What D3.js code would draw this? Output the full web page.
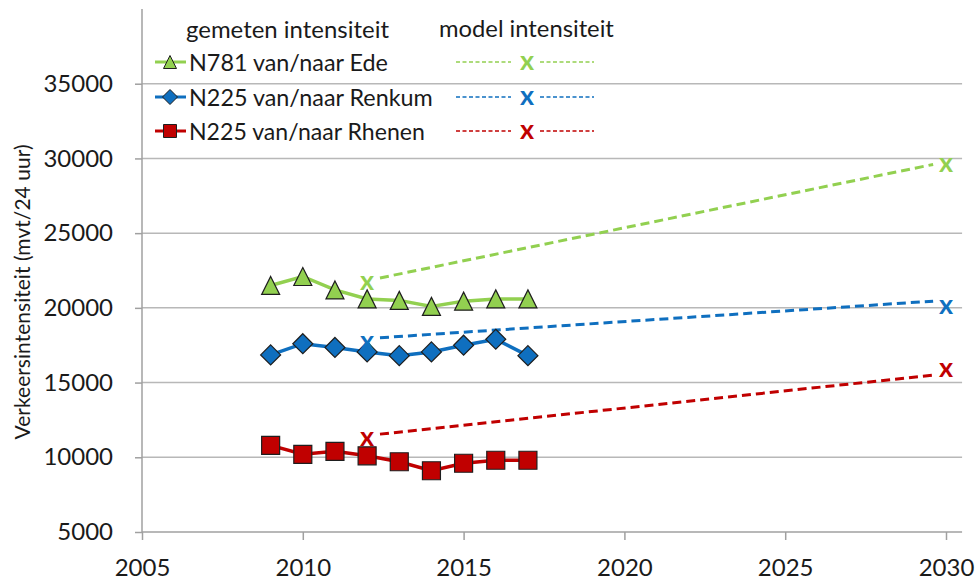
<!DOCTYPE html>
<html>
<head>
<meta charset="utf-8">
<script src="https://cdn.jsdelivr.net/npm/d3@7"></script>
<style>
  html, body { margin: 0; padding: 0; background: #fff; }
  svg { display: block; }
  text { font-family: Lato, "Open Sans", sans-serif; fill: #1a1a1a; }
</style>
</head>
<body>
<svg id="chart" width="977" height="581"></svg>
<script>
// ---- data ----
const years = [2009, 2010, 2011, 2012, 2013, 2014, 2015, 2016, 2017];
const edeValues    = [21500, 22100, 21200, 20600, 20500, 20100, 20450, 20600, 20600];
const renkumValues = [16850, 17600, 17350, 17050, 16800, 17050, 17500, 17900, 16800];
const rhenenValues = [10800, 10200, 10400, 10100, 9700, 9100, 9600, 9800, 9800];

const modelYears = [2012, 2030];
const modelEde    = [21700, 29600];
const modelRenkum = [17700, 20100];
const modelRhenen = [11300, 15900];

const trendYears = [2012.4, 2029.6];
const trendEde    = [22000, 29600];
const trendRenkum = [18000, 20450];
const trendRhenen = [11550, 15500];

const seriesNames = ["N781 van/naar Ede", "N225 van/naar Renkum", "N225 van/naar Rhenen"];
const legendHeaders = ["gemeten intensiteit", "model intensiteit"];
const yTicks = [5000, 10000, 15000, 20000, 25000, 30000, 35000];
const xTicks = [2005, 2010, 2015, 2020, 2025, 2030];
const yTitle = "Verkeersintensiteit (mvt/24 uur)";

// ---- setup ----
const svg = d3.select("#chart");
const x = d3.scaleLinear().domain([2005, 2030]).range([142, 946]);
const y = d3.scaleLinear().domain([5000, 40000]).range([532, 9]);
const plotRight = x(2030.5);

const series = [
  { name: seriesNames[0], values: edeValues, model: modelEde, trend: trendEde,
    color: "#92D050", marker: "triangle", w: 199 },
  { name: seriesNames[1], values: renkumValues, model: modelRenkum, trend: trendRenkum,
    color: "#0F6FBF", marker: "diamond", w: 244 },
  { name: seriesNames[2], values: rhenenValues, model: modelRhenen, trend: trendRhenen,
    color: "#C00000", marker: "square", w: 236 }
];

function markerPath(type, s) {
  const h = s / 2;
  if (type === "triangle") return `M0,${-h}L${h},${h}L${-h},${h}Z`;
  if (type === "diamond") return `M0,${-h}L${h},0L0,${h}L${-h},0Z`;
  return `M${-h},${-h}L${h},${-h}L${h},${h}L${-h},${h}Z`;
}

// scale a text's font size so it spans the target width
function fitText(sel, target, base) {
  sel.style("font-size", base + "px");
  const len = sel.node().getComputedTextLength();
  if (len > 0) sel.style("font-size", (base * target / len).toFixed(2) + "px");
  return sel;
}
// keep font size, adjust letter spacing to reach target width
function spaceText(sel, target, size) {
  sel.style("font-size", size + "px");
  const len = sel.node().getComputedTextLength();
  const n = sel.text().length;
  if (len > 0 && n > 1) sel.style("letter-spacing", ((target - len) / n).toFixed(2) + "px");
  return sel;
}

// gridlines
svg.append("g").selectAll("line")
  .data(yTicks.filter(t => t > 5000))
  .join("line")
  .attr("x1", x(2005)).attr("x2", plotRight)
  .attr("y1", d => y(d)).attr("y2", d => y(d))
  .attr("stroke", "#B8B8B8").attr("stroke-width", 1.5);

// axes
const yAxis = d3.axisLeft(y).tickValues(yTicks).tickSize(7).tickPadding(22).tickFormat(d3.format("d"));
const gy = svg.append("g").attr("transform", `translate(${x(2005)},0)`).call(yAxis);
gy.select(".domain").attr("stroke", "#A0A0A0").attr("stroke-width", 1.5)
  .attr("d", `M0,${y(5000)}V${y(40000)}`);
gy.selectAll(".tick line").attr("stroke", "#A0A0A0").attr("stroke-width", 1.5);
gy.selectAll(".tick text").style("font-size", "24px").attr("fill", "#1a1a1a");

const xAxis = d3.axisBottom(x).tickValues(xTicks).tickSize(8).tickPadding(19).tickFormat(d3.format("d"));
const gx = svg.append("g").attr("transform", `translate(0,${y(5000)})`).call(xAxis);
gx.select(".domain").attr("stroke", "#A0A0A0").attr("stroke-width", 1.5)
  .attr("d", `M${x(2005)},0H${plotRight}`);
gx.selectAll(".tick line").attr("stroke", "#A0A0A0").attr("stroke-width", 1.5);
gx.selectAll(".tick text").style("font-size", "24px").attr("fill", "#1a1a1a");
svg.selectAll(".tick text").attr("font-family", null);

// y title
const yt = svg.append("text")
  .attr("transform", `translate(30,292) rotate(-90)`)
  .attr("text-anchor", "middle")
  .text(yTitle);
spaceText(yt, 295, 21);

// model trend dashed lines
const line = d3.line().x(d => x(d[0])).y(d => y(d[1]));
series.forEach(s => {
  svg.append("path")
    .datum(trendYears.map((yr, i) => [yr, s.trend[i]]))
    .attr("d", line)
    .attr("fill", "none").attr("stroke", s.color)
    .attr("stroke-width", 3).attr("stroke-dasharray", "9,5");
});

// measured lines + markers
series.forEach(s => {
  const pts = years.map((yr, i) => [yr, s.values[i]]);
  svg.append("path").datum(pts).attr("d", line)
    .attr("fill", "none").attr("stroke", s.color).attr("stroke-width", 3.5);
  svg.append("g").selectAll("path").data(pts).join("path")
    .attr("transform", d => `translate(${x(d[0])},${y(d[1])})`)
    .attr("d", markerPath(s.marker, s.marker === "diamond" ? 20 : 18))
    .attr("fill", s.color).attr("stroke", "#1e1e1e").attr("stroke-width", 1.2);
});

// model X markers
series.forEach(s => {
  svg.append("g").selectAll("text").data(modelYears.map((yr, i) => [yr, s.model[i]])).join("text")
    .attr("x", d => x(d[0])).attr("y", d => y(d[1]) + 8)
    .attr("text-anchor", "middle")
    .style("font-size", "27px").style("font-weight", "bold")
    .style("fill", s.color)
    .text("x");
});

// legend
const lg = svg.append("g");
fitText(lg.append("text").attr("x", 186).attr("y", 28).attr("dominant-baseline", "central")
  .text(legendHeaders[0]), 203, 24);
fitText(lg.append("text").attr("x", 439).attr("y", 28).attr("dominant-baseline", "central")
  .text(legendHeaders[1]), 175, 24);
const rowY = [62, 97, 131];
series.forEach((s, i) => {
  const ry = rowY[i];
  lg.append("line").attr("x1", 155).attr("x2", 186).attr("y1", ry).attr("y2", ry)
    .attr("stroke", s.color).attr("stroke-width", 3);
  lg.append("path").attr("transform", `translate(170,${ry})`)
    .attr("d", markerPath(s.marker, s.marker === "diamond" ? 15 : 13))
    .attr("fill", s.color).attr("stroke", "#1e1e1e").attr("stroke-width", 1);
  fitText(lg.append("text").attr("x", 189).attr("y", ry).attr("dominant-baseline", "central")
    .text(s.name), s.w, 23);
  lg.append("line").attr("x1", 456).attr("x2", 511).attr("y1", ry).attr("y2", ry)
    .attr("stroke", s.color).attr("stroke-width", 1.6).attr("stroke-dasharray", "4,2.5");
  lg.append("line").attr("x1", 540).attr("x2", 594).attr("y1", ry).attr("y2", ry)
    .attr("stroke", s.color).attr("stroke-width", 1.6).attr("stroke-dasharray", "4,2.5");
  lg.append("text").attr("x", 527).attr("y", ry + 8).attr("text-anchor", "middle")
    .style("font-size", "27px").style("font-weight", "bold").style("fill", s.color)
    .text("x");
});
</script>
</body>
</html>
